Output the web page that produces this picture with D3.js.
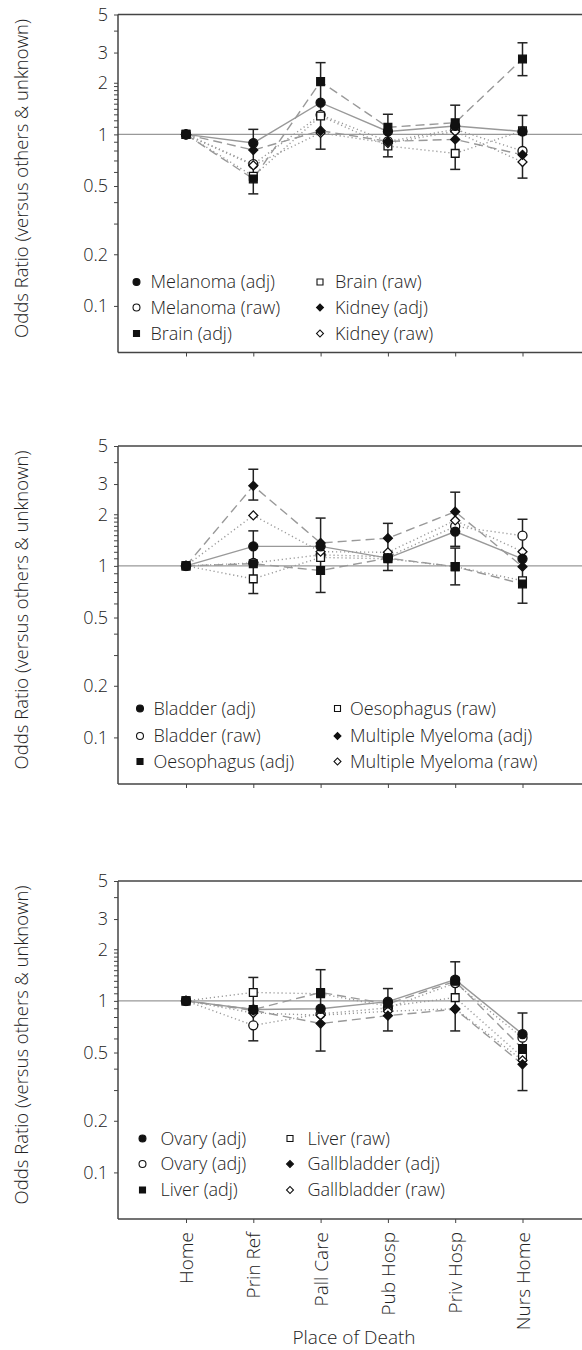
<!DOCTYPE html>
<html>
<head>
<meta charset="utf-8">
<script src="https://cdn.jsdelivr.net/npm/d3@7"></script>
<style>
  body { margin: 0; background: #fff; }
  text { font-family: "Open Sans", sans-serif; font-weight: 300; fill: #222; }
</style>
</head>
<body>
<svg id="chart" width="582" height="1350"></svg>
<script>
// Categories and axis ticks
const places = ["Home", "Prin Ref", "Pall Care", "Pub Hosp", "Priv Hosp", "Nurs Home"];
const yTickValues = [5, 3, 2, 1, 0.5, 0.2, 0.1];
const yMinorTicks = [4, 1.9, 1.8, 1.7, 1.6, 1.5, 1.4, 1.3, 1.2, 1.1, 0.9, 0.8, 0.7, 0.6, 0.4, 0.3];
const yTitle = "Odds Ratio (versus others & unknown)";
const xTitle = "Place of Death";

// Panel 1: melanoma, brain, kidney
const melanomaAdj = [1, 0.89, 1.53, 1.04, 1.12, 1.04];
const melanomaRaw = [1, 0.67, 1.30, 0.91, 1.07, 0.80];
const brainAdj    = [1, 0.55, 2.03, 1.10, 1.17, 2.75];
const brainRaw    = [1, 0.57, 1.28, 0.855, 0.775, 1.05];
const kidneyAdj   = [1, 0.81, 1.05, 0.91, 0.935, 0.76];
const kidneyRaw   = [1, 0.66, 1.02, 0.89, 1.04, 0.69];
const p1ErrPlace  = ["Prin Ref", "Pall Care", "Pub Hosp", "Priv Hosp", "Nurs Home", "Nurs Home"];
const p1ErrLo     = [0.45, 0.82, 0.74, 0.625, 2.2, 0.556];
const p1ErrHi     = [1.07, 2.62, 1.31, 1.48, 3.42, 1.29];

// Panel 2: bladder, oesophagus, multiple myeloma
const bladderAdj    = [1, 1.30, 1.30, 1.11, 1.585, 1.10];
const bladderRaw    = [1, 1.04, 1.16, 1.13, 1.70, 1.50];
const oesophagusAdj = [1, 1.03, 0.94, 1.11, 0.99, 0.785];
const oesophagusRaw = [1, 0.84, 1.12, 1.10, 0.99, 0.82];
const myelomaAdj    = [1, 2.93, 1.36, 1.45, 2.07, 0.99];
const myelomaRaw    = [1, 1.97, 1.21, 1.20, 1.84, 1.21];
const p2ErrPlace = ["Prin Ref", "Prin Ref", "Pall Care", "Pub Hosp", "Priv Hosp", "Priv Hosp", "Nurs Home"];
const p2ErrLo    = [2.42, 0.69, 0.70, 0.94, 1.30, 0.775, 0.606];
const p2ErrHi    = [3.66, 1.60, 1.90, 1.77, 2.69, 1.27, 1.87];

// Panel 3: ovary, liver, gallbladder
const ovaryAdj       = [1, 0.89, 0.90, 0.99, 1.33, 0.64];
const ovaryRaw       = [1, 0.72, 0.84, 0.91, 1.27, 0.61];
const liverAdj       = [1, 0.89, 1.12, 0.96, 1.30, 0.527];
const liverRaw       = [1, 1.12, 1.10, 0.93, 1.045, 0.47];
const gallbladderAdj = [1, 0.88, 0.738, 0.82, 0.894, 0.427];
const gallbladderRaw = [1, 0.85, 0.825, 0.87, 0.90, 0.45];
const p3ErrPlace = ["Prin Ref", "Pall Care", "Pub Hosp", "Priv Hosp", "Nurs Home"];
const p3ErrLo    = [0.585, 0.51, 0.668, 0.668, 0.30];
const p3ErrHi    = [1.37, 1.52, 1.18, 1.69, 0.85];

// Series definitions: label, values, marker shape, fill, line style
const panels = [
  {
    top: 14.5,
    series: [
      { label: "Melanoma (adj)", values: melanomaAdj, shape: "circle",  filled: true,  line: "solid" },
      { label: "Melanoma (raw)", values: melanomaRaw, shape: "circle",  filled: false, line: "dot" },
      { label: "Brain (adj)",    values: brainAdj,    shape: "square",  filled: true,  line: "dash" },
      { label: "Brain (raw)",    values: brainRaw,    shape: "square",  filled: false, line: "dot" },
      { label: "Kidney (adj)",   values: kidneyAdj,   shape: "diamond", filled: true,  line: "dash" },
      { label: "Kidney (raw)",   values: kidneyRaw,   shape: "diamond", filled: false, line: "dot" }
    ],
    err: { place: p1ErrPlace, lo: p1ErrLo, hi: p1ErrHi },
    legend: { rows: [267.5, 293, 319], markX: [136.5, 320], textX: [150.5, 335] }
  },
  {
    top: 446,
    series: [
      { label: "Bladder (adj)",           values: bladderAdj,    shape: "circle",  filled: true,  line: "solid" },
      { label: "Bladder (raw)",           values: bladderRaw,    shape: "circle",  filled: false, line: "dot" },
      { label: "Oesophagus (adj)",        values: oesophagusAdj, shape: "square",  filled: true,  line: "dash" },
      { label: "Oesophagus (raw)",        values: oesophagusRaw, shape: "square",  filled: false, line: "dot" },
      { label: "Multiple Myeloma (adj)",  values: myelomaAdj,    shape: "diamond", filled: true,  line: "dash" },
      { label: "Multiple Myeloma (raw)",  values: myelomaRaw,    shape: "diamond", filled: false, line: "dot" }
    ],
    err: { place: p2ErrPlace, lo: p2ErrLo, hi: p2ErrHi },
    legend: { rows: [262.5, 290, 315.5], markX: [140, 337.5], textX: [153.5, 350] }
  },
  {
    top: 881,
    series: [
      { label: "Ovary (adj)",       values: ovaryAdj,       shape: "circle",  filled: true,  line: "solid" },
      { label: "Ovary (adj)",       values: ovaryRaw,       shape: "circle",  filled: false, line: "dot" },
      { label: "Liver (adj)",       values: liverAdj,       shape: "square",  filled: true,  line: "dash" },
      { label: "Liver (raw)",       values: liverRaw,       shape: "square",  filled: false, line: "dot" },
      { label: "Gallbladder (adj)", values: gallbladderAdj, shape: "diamond", filled: true,  line: "dash" },
      { label: "Gallbladder (raw)", values: gallbladderRaw, shape: "diamond", filled: false, line: "dot" }
    ],
    err: { place: p3ErrPlace, lo: p3ErrLo, hi: p3ErrHi },
    legend: { rows: [257.5, 283, 309], markX: [142.5, 290], textX: [160.5, 307.5] }
  }
];

const svg = d3.select("#chart");
const plotLeft = 118, plotRight = 590, plotHeight = 338;
const x = d3.scalePoint().domain(places).range([186, 522.5]);

const dashFor = { solid: null, dash: "9,5", dot: "1.2,2.8" };
const symFor = { circle: d3.symbolCircle, square: d3.symbolSquare, diamond: d3.symbolSquare };
const sizeFor = { circle: 64, square: 60, diamond: 40 };
const legendSize = { circle: 38, square: 36, diamond: 24 };
const rotFor = { circle: 0, square: 0, diamond: 45 };
const fontStack = '"Open Sans", sans-serif';

panels.forEach((p, pi) => {
  const g = svg.append("g");
  const y = d3.scaleLog().domain([0.0535, 5]).range([p.top + plotHeight, p.top]);
  const bottom = p.top + plotHeight;

  // reference line at OR = 1
  g.append("line")
    .attr("x1", plotLeft).attr("x2", plotRight)
    .attr("y1", y(1)).attr("y2", y(1))
    .attr("stroke", "#999").attr("stroke-width", 1.2);

  // top border
  g.append("line")
    .attr("x1", plotLeft).attr("x2", plotRight)
    .attr("y1", p.top).attr("y2", p.top)
    .attr("stroke", "#444").attr("stroke-width", 1.5);

  // y axis with major labelled ticks
  const yAxis = d3.axisLeft(y).tickValues(yTickValues).tickSize(4).tickPadding(6)
    .tickFormat(d3.format("~g"));
  const ya = g.append("g").attr("transform", `translate(${plotLeft},0)`).call(yAxis);
  ya.select(".domain").attr("stroke", "#444").attr("stroke-width", 1.5)
    .attr("d", `M-0,${p.top}V${bottom}`);
  ya.selectAll(".tick line").attr("stroke", "#444");
  ya.selectAll(".tick text").style("font-size", "18px").style("font-weight", 300)
    .style("font-family", fontStack).attr("fill", "#222");

  // minor ticks
  g.append("g").selectAll("line").data(yMinorTicks).join("line")
    .attr("x1", plotLeft - 4).attr("x2", plotLeft)
    .attr("y1", d => y(d)).attr("y2", d => y(d))
    .attr("stroke", "#444").attr("stroke-width", 1);

  // x axis
  const xAxis = d3.axisBottom(x).tickSize(4).tickFormat(pi === 2 ? (d => d) : () => "");
  const xa = g.append("g").attr("transform", `translate(0,${bottom})`).call(xAxis);
  xa.select(".domain").attr("stroke", "#444").attr("stroke-width", 1.5)
    .attr("d", `M${plotLeft},0H${plotRight}`);
  xa.selectAll(".tick line").attr("stroke", "#444");
  if (pi === 2) {
    xa.selectAll(".tick text")
      .style("font-size", "19px").style("font-weight", 300)
      .style("font-family", fontStack).attr("fill", "#222")
      .attr("text-anchor", "end")
      .attr("transform", "rotate(-90)")
      .attr("x", -13).attr("y", 0).attr("dy", "0.35em");
  }

  // y axis title
  g.append("text")
    .attr("transform", `translate(22,${p.top + 164}) rotate(-90)`)
    .attr("text-anchor", "middle").attr("dy", "0.35em")
    .style("font-size", "18.5px")
    .text(yTitle);

  // series lines
  const line = d3.line().x((d, i) => x(places[i])).y(d => y(d));
  g.append("g").selectAll("path").data(p.series).join("path")
    .attr("d", s => line(s.values))
    .attr("fill", "none")
    .attr("stroke", "#999")
    .attr("stroke-width", 1.4)
    .attr("stroke-dasharray", s => dashFor[s.line]);

  // error bars
  const errs = p.err.place.map((pl, i) => ({ place: pl, lo: p.err.lo[i], hi: p.err.hi[i] }));
  const eg = g.append("g").attr("stroke", "#222").attr("stroke-width", 1.5);
  errs.forEach(e => {
    const cx = x(e.place);
    eg.append("line").attr("x1", cx).attr("x2", cx).attr("y1", y(e.lo)).attr("y2", y(e.hi));
    eg.append("line").attr("x1", cx - 5).attr("x2", cx + 5).attr("y1", y(e.lo)).attr("y2", y(e.lo));
    eg.append("line").attr("x1", cx - 5).attr("x2", cx + 5).attr("y1", y(e.hi)).attr("y2", y(e.hi));
  });

  // markers: open (raw) drawn first, filled (adj) on top
  const order = p.series.slice().sort((a, b) => (a.filled === b.filled) ? 0 : (a.filled ? 1 : -1));
  order.forEach(s => {
    g.append("g").selectAll("path").data(s.values).join("path")
      .attr("transform", (d, i) => `translate(${x(places[i])},${y(d)}) rotate(${rotFor[s.shape]})`)
      .attr("d", d3.symbol().type(symFor[s.shape]).size(sizeFor[s.shape]))
      .attr("fill", s.filled ? "#111" : "#fff")
      .attr("stroke", "#111")
      .attr("stroke-width", 1.3);
  });

  // legend
  const lg = g.append("g");
  p.series.forEach((s, i) => {
    const col = Math.floor(i / 3), row = i % 3;
    const ly = p.top + p.legend.rows[row];
    lg.append("path")
      .attr("transform", `translate(${p.legend.markX[col]},${ly}) rotate(${rotFor[s.shape]})`)
      .attr("d", d3.symbol().type(symFor[s.shape]).size(legendSize[s.shape]))
      .attr("fill", s.filled ? "#111" : "#fff")
      .attr("stroke", "#111").attr("stroke-width", 1.1);
    lg.append("text")
      .attr("x", p.legend.textX[col]).attr("y", ly).attr("dy", "0.35em")
      .style("font-size", "18px")
      .text(s.label);
  });

  if (pi === 2) {
    g.append("text")
      .attr("x", 354).attr("y", 1337).attr("dy", "0.35em")
      .attr("text-anchor", "middle")
      .style("font-size", "19px")
      .text(xTitle);
  }
});
</script>
</body>
</html>
